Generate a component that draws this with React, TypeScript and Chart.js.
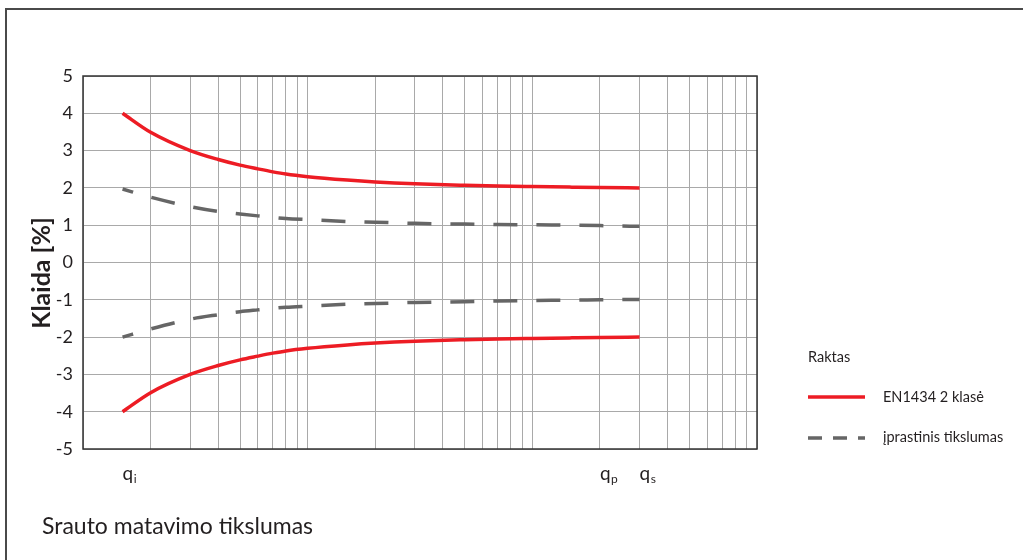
import React, { useEffect, useRef } from "react";
import { Chart, registerables } from "chart.js";

Chart.register(...registerables);

// ---- data ----
const flowRates = [1.5, 2, 3, 4, 5, 6, 7, 8, 10, 15, 20, 30, 50, 70, 100, 150, 200, 300];
const en1434Upper = [4.0, 3.49, 3.0, 2.76, 2.61, 2.51, 2.43, 2.37, 2.3, 2.21, 2.16, 2.11, 2.07, 2.05, 2.035, 2.02, 2.01, 2.0];
const en1434Lower = [-4.0, -3.49, -3.0, -2.76, -2.61, -2.51, -2.43, -2.37, -2.3, -2.21, -2.16, -2.11, -2.07, -2.05, -2.035, -2.02, -2.01, -2.0];
const typicalUpper = [1.97, 1.75, 1.5, 1.37, 1.3, 1.25, 1.21, 1.18, 1.15, 1.1, 1.08, 1.05, 1.03, 1.02, 1.01, 1.0, 0.99, 0.97];
const typicalLower = [-2.0, -1.78, -1.52, -1.4, -1.32, -1.27, -1.23, -1.2, -1.17, -1.12, -1.1, -1.07, -1.05, -1.03, -1.02, -1.01, -1.0, -0.99];

const gridValues = [
  1, 2, 3, 4, 5, 6, 7, 8, 9,
  10, 20, 30, 40, 50, 60, 70, 80, 90,
  100, 200, 300, 400, 500, 600, 700, 800, 900, 1000,
];
const yMin = -5;
const yMax = 5;

const flowTickValues = [1.5, 200, 300];
const flowTickBase = ["q", "q", "q"];
const flowTickSub = ["i", "p", "s"];

const seriesNames = ["EN1434 2 klasė", "įprastinis tikslumas"];
const legendTitle = "Raktas";
const yAxisTitle = "Klaida [%]";
const chartTitle = "Srauto matavimo tikslumas";

// ---- styles ----
const FONT = "Lato, 'Open Sans', sans-serif";
const TEXT = "#231f20";
const RED = "#ed1c24";
const GRAY = "#666666";
const GRID = "#a9a9a9";

const decorPlugin = {
  id: "decor",
  afterDraw(chart: any) {
    const ctx = chart.ctx;
    const area = chart.chartArea;
    const xs = chart.scales.x;
    ctx.save();

    // outer frame (top + left)
    ctx.strokeStyle = "#4a4a4a";
    ctx.lineWidth = 2;
    ctx.beginPath();
    ctx.moveTo(6, 560);
    ctx.lineTo(6, 9);
    ctx.lineTo(1023, 9);
    ctx.stroke();

    // plot border
    ctx.strokeStyle = "#333333";
    ctx.lineWidth = 1.5;
    ctx.strokeRect(area.left, area.top, area.right - area.left, area.bottom - area.top);

    // x labels with subscripts
    ctx.fillStyle = TEXT;
    ctx.textBaseline = "alphabetic";
    ctx.textAlign = "left";
    flowTickValues.forEach((v, i) => {
      const px = xs.getPixelForValue(v);
      ctx.font = `19px ${FONT}`;
      ctx.fillText(flowTickBase[i], px, 480);
      const w = ctx.measureText(flowTickBase[i]).width;
      ctx.font = `12px ${FONT}`;
      ctx.fillText(flowTickSub[i], px + w + 0.5, 483);
    });

    // y title
    ctx.save();
    ctx.translate(42, 273);
    ctx.rotate(-Math.PI / 2);
    ctx.font = `bold 25px ${FONT}`;
    ctx.textAlign = "center";
    ctx.textBaseline = "middle";
    ctx.fillText(yAxisTitle, 0, 0);
    ctx.restore();

    // bottom title
    ctx.font = `23px ${FONT}`;
    ctx.textAlign = "left";
    ctx.textBaseline = "middle";
    ctx.fillText(chartTitle, 42, 527);

    // legend
    ctx.font = `14.5px ${FONT}`;
    ctx.fillText(legendTitle, 808, 357);
    ctx.lineCap = "butt";
    ctx.strokeStyle = RED;
    ctx.lineWidth = 3.5;
    ctx.setLineDash([]);
    ctx.beginPath();
    ctx.moveTo(808, 397);
    ctx.lineTo(865, 397);
    ctx.stroke();
    ctx.fillText(seriesNames[0], 883, 397);

    ctx.strokeStyle = GRAY;
    ctx.setLineDash([14, 11]);
    ctx.beginPath();
    ctx.moveTo(808, 438);
    ctx.lineTo(865, 438);
    ctx.stroke();
    ctx.setLineDash([]);
    ctx.fillText(seriesNames[1], 883, 437);

    ctx.restore();
  },
};

export default function App() {
  const canvasRef = useRef<HTMLCanvasElement | null>(null);

  useEffect(() => {
    const canvas = canvasRef.current;
    if (!canvas) return;
    const mk = (vals: number[]) => flowRates.map((q, i) => ({ x: q, y: vals[i] }));
    const dashed = {
      borderColor: GRAY,
      borderWidth: 3.5,
      borderDash: [24, 19],
      borderDashOffset: 13,
      borderCapStyle: "butt",
      pointRadius: 0,
      cubicInterpolationMode: "monotone",
    };
    const solid = {
      borderColor: RED,
      borderWidth: 3.5,
      pointRadius: 0,
      cubicInterpolationMode: "monotone",
    };
    const chart = new Chart(canvas, {
      type: "line",
      data: {
        datasets: [
          { label: seriesNames[0], data: mk(en1434Upper), ...solid },
          { label: seriesNames[0] + " (-)", data: mk(en1434Lower), ...solid },
          { label: seriesNames[1], data: mk(typicalUpper), ...dashed },
          { label: seriesNames[1] + " (-)", data: mk(typicalLower), ...dashed },
        ] as any,
      },
      options: {
        animation: false,
        responsive: false,
        devicePixelRatio: 1,
        layout: { padding: { top: 76, right: 266, bottom: 0, left: 0 } },
        plugins: {
          legend: { display: false },
          tooltip: { enabled: false },
        },
        scales: {
          x: {
            type: "logarithmic",
            min: gridValues[0],
            max: gridValues[gridValues.length - 1],
            afterBuildTicks: (s: any) => {
              s.ticks = gridValues.map((v) => ({ value: v }));
            },
            afterFit: (s: any) => {
              s.height = 111;
            },
            ticks: { display: false },
            grid: { color: GRID, lineWidth: 1, drawTicks: false },
            border: { display: false },
          },
          y: {
            min: yMin,
            max: yMax,
            afterFit: (s: any) => {
              s.width = 83;
            },
            ticks: {
              stepSize: 1,
              padding: 10,
              color: TEXT,
              font: { family: FONT, size: 18 },
            },
            grid: { color: GRID, lineWidth: 1, drawTicks: false },
            border: { display: false },
          },
        },
      } as any,
      plugins: [decorPlugin],
    });
    return () => chart.destroy();
  }, []);

  return (
    <div style={{ position: "absolute", left: 0, top: 0, width: 1023, height: 560, background: "#fff" }}>
      <canvas ref={canvasRef} width={1023} height={560} />
    </div>
  );
}
